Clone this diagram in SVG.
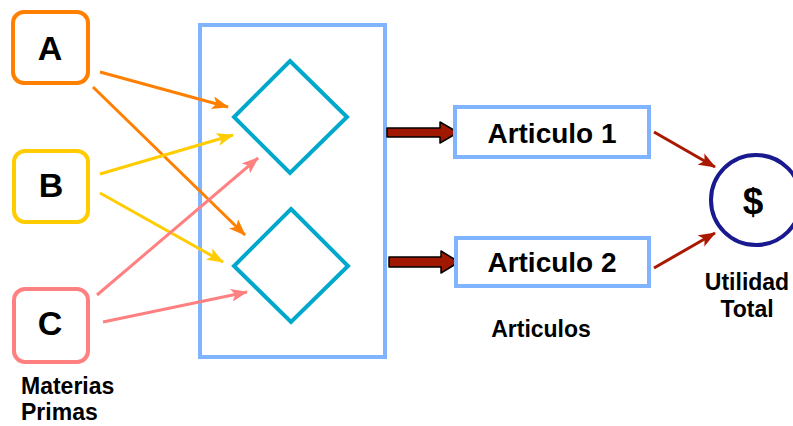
<svg xmlns="http://www.w3.org/2000/svg" width="793" height="426" viewBox="0 0 793 426">
<defs>
<style>
text{font-family:"Liberation Sans",Arial,sans-serif;font-weight:bold;fill:#000}
.big{font-size:34px;text-anchor:middle}
.art{font-size:28px;text-anchor:middle}
.lbl{font-size:23px}
.mat{fill:#fff;stroke-width:4}
.blue{fill:#fff;stroke:#80B4FF;stroke-width:4}
.dia{fill:none;stroke:#00A8CC;stroke-width:4;stroke-linejoin:miter}
.ln{stroke-width:3;fill:none}
</style>
<marker id="mo" markerUnits="userSpaceOnUse" markerWidth="17" markerHeight="13" refX="16" refY="6.5" orient="auto"><path d="M0,0 L17,6.5 L0,13 L4,6.5 z" fill="#FF7F00"/></marker>
<marker id="my" markerUnits="userSpaceOnUse" markerWidth="17" markerHeight="13" refX="16" refY="6.5" orient="auto"><path d="M0,0 L17,6.5 L0,13 L4,6.5 z" fill="#FFCC00"/></marker>
<marker id="mp" markerUnits="userSpaceOnUse" markerWidth="17" markerHeight="13" refX="16" refY="6.5" orient="auto"><path d="M0,0 L17,6.5 L0,13 L4,6.5 z" fill="#FF8080"/></marker>
<marker id="mr" markerUnits="userSpaceOnUse" markerWidth="17" markerHeight="13" refX="16" refY="6.5" orient="auto"><path d="M0,0 L17,6.5 L0,13 L4,6.5 z" fill="#AA1800"/></marker>
</defs>
<rect width="793" height="426" fill="#fff"/>

<g id="process">
<rect class="blue" x="200" y="25" width="185" height="332"/>
</g>
<g id="diamond1"><path class="dia" d="M290,61 L347,117 L290,173 L234,117 Z"/></g>
<g id="diamond2"><path class="dia" d="M291,209 L348,266 L291,322 L234,266 Z"/></g>

<g id="connectors">
<line class="ln" stroke="#FF7F00" x1="100" y1="72" x2="228" y2="107" marker-end="url(#mo)"/>
<line class="ln" stroke="#FF7F00" x1="93" y1="87" x2="245" y2="235" marker-end="url(#mo)"/>
<line class="ln" stroke="#FFCC00" x1="100" y1="174" x2="233" y2="135" marker-end="url(#my)"/>
<line class="ln" stroke="#FFCC00" x1="100" y1="193" x2="223" y2="262" marker-end="url(#my)"/>
<line class="ln" stroke="#FF8080" x1="97" y1="295" x2="258" y2="158" marker-end="url(#mp)"/>
<line class="ln" stroke="#FF8080" x1="103" y1="322" x2="247" y2="292" marker-end="url(#mp)"/>
<path d="M387,128 H440 V122 L458,132.5 L440,143 V137 H387 Z" fill="#A01800" stroke="#000" stroke-width="1.5" stroke-linejoin="round"/>
<path d="M389,257 H441 V251 L459,262 L441,273 V267 H389 Z" fill="#A01800" stroke="#000" stroke-width="1.5" stroke-linejoin="round"/>
<line class="ln" stroke="#AA1800" x1="654" y1="132" x2="715" y2="167" marker-end="url(#mr)"/>
<line class="ln" stroke="#AA1800" x1="654" y1="268" x2="715" y2="233" marker-end="url(#mr)"/>
</g>

<g id="A"><rect class="mat" stroke="#FF7F00" x="13" y="12" width="75" height="71" rx="11"/><text class="big" x="50" y="60">A</text></g>
<g id="B"><rect class="mat" stroke="#FFCC00" x="14" y="151" width="74" height="71" rx="11"/><text class="big" x="51" y="197">B</text></g>
<g id="C"><rect class="mat" stroke="#FF8080" x="14" y="289" width="74" height="73" rx="11"/><text class="big" x="50" y="335">C</text></g>
<g id="materias"><text class="lbl" x="21" y="394">Materias</text><text class="lbl" x="21" y="420">Primas</text></g>

<g id="articulo1"><rect class="blue" x="455" y="107" width="194" height="50"/><text class="art" x="552" y="143">Articulo 1</text></g>
<g id="articulo2"><rect class="blue" x="456" y="238" width="193" height="48"/><text class="art" x="552" y="272">Articulo 2</text></g>
<g id="articulos"><text class="lbl" x="541" y="337" text-anchor="middle">Articulos</text></g>

<g id="utilidad">
<circle cx="756" cy="200" r="45" fill="#fff" stroke="#1A1A90" stroke-width="4"/>
<text x="753" y="214" style="font-size:37px;text-anchor:middle">$</text>
<text class="lbl" x="747" y="290" text-anchor="middle">Utilidad</text>
<text class="lbl" x="747" y="317" text-anchor="middle">Total</text>
</g>
</svg>
